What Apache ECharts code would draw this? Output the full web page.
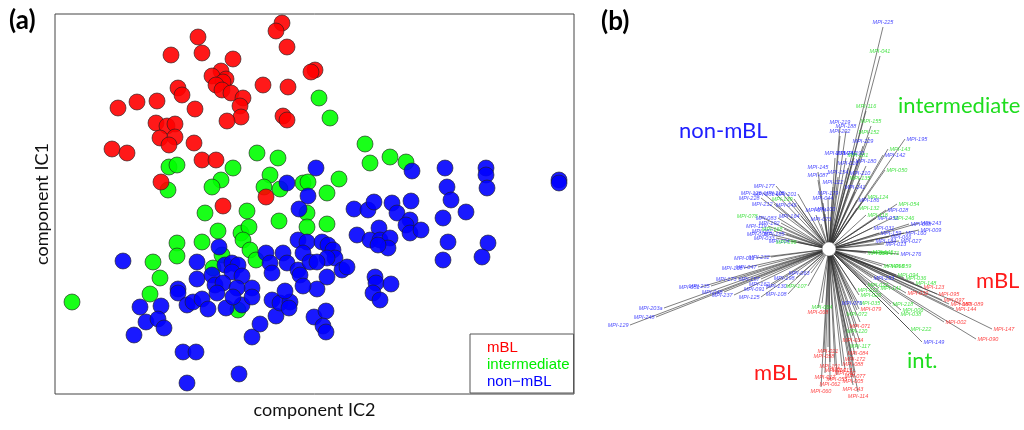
<!DOCTYPE html>
<html lang="en">
<head>
<meta charset="utf-8">
<title>ICA components and clustering tree</title>
<script src="https://cdn.jsdelivr.net/npm/echarts@6/dist/echarts.min.js"></script>
<style>
    html, body { margin: 0; padding: 0; background: #fff; }
    #chart { width: 1024px; height: 430px; }
</style>
</head>
<body>
<div id="chart"></div>
<script>
// (a) scatter: component IC2 (x) / component IC1 (y), arbitrary units
var mblX = [227, 221, 143, 232, 147, 116, 178, 260, 256, 166, 157, 171, 168, 161, 167, 176, 208, 233, 123, 127, 188, 185,
    186, 63, 82, 102, 140, 228, 232, 172, 101, 112, 120, 105, 120, 114, 139, 57, 72, 147, 161, 106, 211, 168];
var mblY = [371, 363, 357, 347, 341, 339, 335, 324, 322, 323, 318, 315, 312, 309, 304, 301, 309, 307, 306, 299, 296, 288,
    277, 286, 292, 293, 285, 278, 274, 273, 271, 268, 270, 256, 257, 249, 251, 245, 241, 234, 234, 212, 197, 188];

var intX = [264, 275, 202, 223, 114, 122, 178, 215, 166, 157, 209, 225, 248, 253, 284, 272, 113, 150, 192, 224, 252, 272,
    163, 186, 194, 188, 252, 122, 122, 147, 98, 105, 95, 17, 195, 201, 167, 158, 183, 310, 315, 335, 351];
var intY = [296, 276, 241, 236, 227, 229, 226, 219, 214, 207, 207, 205, 211, 212, 215, 201, 204, 181, 183, 173, 181, 170,
    163, 161, 167, 154, 167, 151, 138, 152, 132, 116, 100, 92, 144, 134, 139, 126, 84, 250, 231, 237, 232];

var nonX = [261, 232, 253, 244, 68, 164, 142, 142, 123, 123, 85, 106, 91, 103, 109, 79, 128, 141, 132, 184, 197, 205,
    221, 217, 225, 235, 234, 230, 262, 259, 271, 268, 271, 132, 138, 147, 153, 171, 187, 197, 197, 170, 177, 183,
    177, 187, 157, 160, 168, 182, 178, 162, 211, 215, 217, 228, 232, 243, 252, 248, 243, 245, 255, 248, 267, 273,
    278, 280, 272, 262, 272, 287, 292, 357, 390, 431, 431, 432, 504, 504, 392, 396, 411, 388, 299, 313, 319, 337,
    342, 356, 355, 351, 355, 366, 302, 324, 315, 325, 335, 333, 323, 393, 433, 427, 388, 320, 321, 336, 318, 325];
var nonY = [226, 211, 198, 185, 133, 147, 132, 115, 105, 101, 87, 88, 72, 75, 66, 59, 42, 42, 11, 20, 57, 70,
    78, 94, 91, 92, 86, 103, 105, 77, 83, 68, 62, 89, 92, 95, 85, 86, 89, 106, 97, 129, 131, 129,
    122, 118, 119, 109, 111, 106, 97, 101, 141, 131, 121, 141, 131, 154, 152, 141, 124, 119, 132, 108, 152, 149,
    144, 136, 136, 132, 117, 124, 127, 223, 226, 226, 219, 206, 214, 211, 207, 194, 182, 176, 185, 184, 192, 191,
    181, 193, 174, 169, 161, 164, 159, 166, 154, 154, 156, 146, 149, 152, 151, 137, 134, 117, 111, 110, 101, 94];

// (b) unrooted tree: leaf tips relative to the root ring, group r = mBL, g = intermediate, b = non-mBL
var leafNames = ['MPI-225', 'MPI-041', 'MPI-116', 'MPI-219', 'MPI-188', 'MPI-202', 'MPI-155', 'MPI-152', 'MPI-229',
    'MPI-195', 'MPI-143', 'MPI-142', 'MPI-050', 'MPI-233', 'MPI-240', 'MPI-190', 'MPI-181', 'MPI-180', 'MPI-016',
    'MPI-145', 'MPI-087', 'MPI-154', 'MPI-210', 'MPI-122', 'MPI-135', 'MPI-241', 'MPI-124', 'MPI-186', 'MPI-179',
    'MPI-044', 'MPI-100', 'MPI-132', 'MPI-054', 'MPI-028', 'MPI-246', 'MPI-052', 'MPI-118', 'MPI-243', 'MPI-098',
    'MPI-009', 'MPI-031', 'MPI-159', 'MPI-066', 'MPI-184', 'MPI-027', 'MPI-160', 'MPI-013', 'MPI-171', 'MPI-056',
    'MPI-146', 'MPI-276', 'MPI-065', 'MPI-059',
    'MPI-177', 'MPI-126', 'MPI-236', 'MPI-205', 'MPI-201', 'MPI-228', 'MPI-139', 'MPI-212', 'MPI-046', 'MPI-078',
    'MPI-083', 'MPI-164', 'MPI-074', 'MPI-073', 'MPI-119', 'MPI-192', 'MPI-082', 'MPI-185', 'MPI-033', 'MPI-104',
    'MPI-096', 'MPI-008', 'MPI-168',
    'MPI-011', 'MPI-232', 'MPI-105', 'MPI-047', 'MPI-173', 'MPI-051', 'MPI-235', 'MPI-048', 'MPI-237', 'MPI-157',
    'MPI-162', 'MPI-130', 'MPI-091', 'MPI-125', 'MPI-108', 'MPI-063', 'MPI-107', 'MPI-203a', 'MPI-248', 'MPI-129',
    'MPI-198',
    'MPI-064', 'MPI-068', 'MPI-035', 'MPI-079', 'MPI-072', 'MPI-076', 'MPI-012', 'MPI-020', 'MPI-071', 'MPI-120',
    'MPI-034', 'MPI-117', 'MPI-084', 'MPI-021', 'MPI-058', 'MPI-172', 'MPI-088', 'MPI-101', 'MPI-024', 'MPI-040',
    'MPI-017', 'MPI-077', 'MPI-055', 'MPI-062', 'MPI-005', 'MPI-043', 'MPI-114', 'MPI-060', 'MPI-115',
    'MPI-094', 'MPI-036', 'MPI-253', 'MPI-148', 'MPI-123', 'MPI-022', 'MPI-141', 'MPI-032', 'MPI-095', 'MPI-097',
    'MPI-080', 'MPI-089', 'MPI-144', 'MPI-218', 'MPI-006', 'MPI-038', 'MPI-002', 'MPI-222', 'MPI-149', 'MPI-147',
    'MPI-090'];
var leafX = [54, 51, 37, 11, 17, 11, 42, 40, 34, 76, 59, 54, 56, 6, 17, 25, 29, 37, 19, -11, -11, 9, 31, 4, 31, 26,
    37, 28, -1, -6, -4, 28, 68, 57, 63, 47, 37, 90, 80, 90, 43, 50, 60, 45, 70, 75, 55, 48, 37, 42, 70, 53, 60,
    -53, -66, -53, -43, -31, -68, -35, -55, -31, -70, -51, -28, -13, -8, -61, -48, -55, -43, -53, -38, -31, -60, -45,
    -73, -58, -85, -71, -91, -128, -118, -105, -95, -68, -58, -41, -63, -68, -41, -18, -21, -165, -173, -199, -33,
    -7, -11, 29, 30, 28, 23, 27, 30, 31, 28, 24, 31, 29, -1, -5, 26, 24, 1, 6, 16, -4, 26, 8, 1, 24, 24, 29, -8, 13,
    67, 75, 43, 85, 93, 37, 50, 77, 108, 113, 120, 132, 125, 62, 72, 70, 115, 80, 93, 163, 147];
var leafY = [222, 193, 138, 122, 118, 113, 123, 112, 103, 110, 100, 94, 79, 91, 91, 91, 89, 83, 81, 77, 69, 72, 71,
    62, 66, 57, 52, 49, 51, 46, 35, 41, 45, 39, 31, 31, 34, 26, 25, 19, 21, 16, 12, 8, 8, 16, 5, -4, -4, -3, -5, -17, -17,
    63, 56, 55, 56, 55, 51, 50, 45, 44, 33, 31, 33, 34, 25, 23, 26, 18, 15, 11, 8, 7, 15, 20,
    -9, -8, -19, -18, -30, -38, -37, -43, -46, -30, -35, -37, -40, -48, -45, -24, -37, -59, -68, -76, -29,
    -54, -59, -54, -60, -61, -50, -41, -46, -73, -78, -87, -93, -100, -98, -103, -106, -111, -113, -117, -120, -124,
    -123, -126, -131, -128, -136, -143, -138, -117,
    -26, -29, -29, -34, -38, -36, -39, -44, -45, -51, -55, -55, -60, -55, -61, -65, -73, -80, -93, -80, -90];
var leafGroup = ['b', 'g', 'g', 'b', 'b', 'b', 'g', 'g', 'b', 'b', 'g', 'b', 'g', 'b', 'b', 'b', 'g', 'b', 'b', 'b',
    'b', 'b', 'b', 'b', 'g', 'b', 'g', 'b', 'b', 'b', 'b', 'g', 'g', 'b', 'g', 'b', 'g', 'b', 'b', 'b', 'b', 'b', 'b',
    'b', 'b', 'b', 'b', 'g', 'g', 'g', 'b', 'g', 'g',
    'b', 'b', 'b', 'b', 'b', 'b', 'g', 'b', 'b', 'g', 'b', 'b', 'b', 'b', 'b', 'b', 'b', 'b', 'b', 'b', 'g', 'b', 'g',
    'b', 'b', 'b', 'b', 'b', 'b', 'b', 'b', 'b', 'b', 'b', 'b', 'b', 'b', 'b', 'b', 'g', 'b', 'b', 'b', 'b',
    'g', 'r', 'g', 'r', 'g', 'b', 'g', 'g', 'r', 'g', 'r', 'g', 'r', 'r', 'r', 'r', 'r', 'r', 'r', 'r', 'r', 'r', 'r',
    'r', 'r', 'r', 'r', 'r', 'r',
    'g', 'g', 'b', 'g', 'r', 'g', 'g', 'r', 'r', 'r', 'r', 'r', 'r', 'g', 'g', 'g', 'r', 'g', 'b', 'r', 'r'];

var tipColor = {r: '#ff1a1a', g: '#1edd1e', b: '#2020ff'};
var ringRadius = 7;

function pairs(xs, ys) {
    return xs.map(function (x, i) { return [x, ys[i]]; });
}

var branchData = leafX.map(function (x, i) {
    var y = leafY[i];
    var len = Math.sqrt(x * x + y * y);
    return {coords: [[x / len * ringRadius, y / len * ringRadius], [x, y]]};
});

var tipData = leafX.map(function (x, i) {
    var y = leafY[i];
    var pos;
    if (Math.abs(x) < 0.5 * Math.abs(y)) {
        pos = y > 0 ? 'top' : 'bottom';
    } else {
        pos = x > 0 ? 'right' : 'left';
    }
    return {name: leafNames[i], value: [x, y], label: {position: pos, color: tipColor[leafGroup[i]]}};
});

var hidden = {show: false};
function bareAxis(extra) {
    var a = {type: 'value', axisLine: hidden, axisTick: hidden, axisLabel: hidden, splitLine: hidden};
    for (var k in extra) a[k] = extra[k];
    return a;
}

function pointStyle(color) {
    return {color: color, borderColor: '#222', borderWidth: 0.7, opacity: 0.9};
}

function note(text, left, top, color, size, weight) {
    return {
        text: text, left: left, top: top, padding: 0,
        textStyle: {fontFamily: 'Lato', fontSize: size, fontWeight: weight || 'normal', color: color}
    };
}

var chart = echarts.init(document.getElementById('chart'));
chart.setOption({
    animation: false,
    backgroundColor: '#fff',
    title: [
        note('(a)', 9, 8, '#000', 26, 'bold'),
        note('(b)', 601, 9, '#000', 26, 'bold'),
        note('intermediate', 898, 95, '#1edd1e', 22),
        note('non-mBL', 679, 120, '#2020ff', 22),
        note('mBL', 976, 270, '#ff1a1a', 22),
        note('int.', 907, 350, '#1edd1e', 22),
        note('mBL', 754, 362, '#ff1a1a', 22)
    ],
    legend: {
        orient: 'vertical',
        left: 470,
        top: 334,
        padding: [6, 4, 4, 12],
        itemGap: 2,
        itemWidth: 0,
        itemHeight: 15,
        icon: 'rect',
        itemStyle: {color: 'rgba(0,0,0,0)', borderWidth: 0},
        borderColor: '#555',
        borderWidth: 1,
        selectedMode: false,
        textStyle: {fontFamily: 'Liberation Sans', fontSize: 15},
        data: [
            {name: 'mBL', textStyle: {color: '#ff0000'}},
            {name: 'intermediate', textStyle: {color: '#00ee00'}},
            {name: 'non\u2212mBL', textStyle: {color: '#0000ff'}}
        ]
    },
    grid: [
        {left: 55, top: 14, width: 519, height: 380, show: true, borderColor: '#444', borderWidth: 1},
        {left: 600, top: 0, width: 424, height: 430}
    ],
    xAxis: [
        bareAxis({
            min: 0, max: 519, gridIndex: 0,
            name: 'component IC2', nameLocation: 'middle', nameGap: 7,
            nameTextStyle: {fontFamily: 'Lato', fontSize: 18, color: '#111'}
        }),
        bareAxis({min: -229, max: 195, gridIndex: 1, show: false})
    ],
    yAxis: [
        bareAxis({
            min: 0, max: 380, gridIndex: 0,
            name: 'component IC1', nameLocation: 'middle', nameGap: 4,
            nameTextStyle: {fontFamily: 'Lato', fontSize: 18, color: '#111'}
        }),
        bareAxis({min: -181, max: 249, gridIndex: 1, show: false})
    ],
    series: [
        {
            name: 'intermediate', type: 'scatter', symbolSize: 16,
            itemStyle: pointStyle('#00ff00'), data: pairs(intX, intY)
        },
        {
            name: 'mBL', type: 'scatter', symbolSize: 16,
            itemStyle: pointStyle('#ff0000'), data: pairs(mblX, mblY)
        },
        {
            name: 'non\u2212mBL', type: 'scatter', symbolSize: 16,
            itemStyle: pointStyle('#0000ff'), data: pairs(nonX, nonY)
        },
        {
            type: 'lines', coordinateSystem: 'cartesian2d', xAxisIndex: 1, yAxisIndex: 1,
            lineStyle: {color: '#333', width: 0.7, opacity: 0.9},
            data: branchData, silent: true
        },
        {
            type: 'scatter', xAxisIndex: 1, yAxisIndex: 1, symbol: 'circle', symbolSize: ringRadius * 2,
            itemStyle: {color: '#fff', borderColor: '#444', borderWidth: 0.6},
            data: [[0, 0]], silent: true
        },
        {
            type: 'scatter', xAxisIndex: 1, yAxisIndex: 1, symbolSize: 1,
            itemStyle: {color: 'rgba(0,0,0,0)'},
            label: {
                show: true, formatter: '{b}', distance: 1,
                fontFamily: 'Liberation Sans', fontSize: 5.5, fontStyle: 'italic'
            },
            data: tipData, silent: true
        }
    ]
});
</script>
</body>
</html>
